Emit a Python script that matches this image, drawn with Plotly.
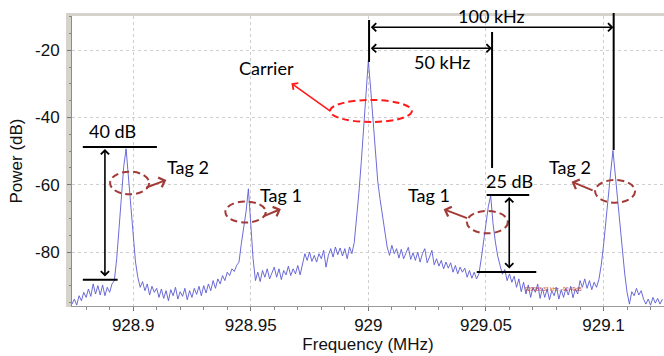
import plotly.graph_objects as go

# ---- data ----
F_START = 928.874   # MHz, first frequency bin
F_STEP = 0.001      # MHz, bin spacing
power_db = [
    -95.5, -94.0, -95.8, -93.0, -94.5, -92.0, -93.5, -91.0, -93.2, -89.5,
    -92.5, -90.0, -92.8, -89.8, -93.0, -90.5, -92.0, -89.5, -88.5, -82.0,
    -73.0, -62.5, -54.5, -49.3, -58.0, -67.5, -77.0, -83.0, -87.6, -90.5,
    -88.8, -91.5, -89.5, -92.8, -90.2, -92.0, -90.8, -93.5, -91.0, -93.8,
    -91.5, -94.5, -91.2, -93.0, -90.5, -94.0, -91.8, -93.2, -90.8, -94.2,
    -91.5, -93.5, -90.8, -92.6, -90.2, -93.0, -90.0, -92.2, -89.5, -91.5,
    -88.5, -90.8, -88.0, -89.5, -87.0, -88.5, -86.0, -87.0, -85.0, -85.8,
    -84.0, -83.0, -77.5, -73.0, -68.0, -61.2, -73.0, -82.0, -88.5, -86.0,
    -88.8, -85.5, -87.5, -85.0, -88.0, -86.0, -84.5, -87.5, -85.0, -88.2,
    -85.5, -86.8, -84.2, -87.0, -85.0, -86.5, -84.0, -86.8, -83.5, -80.5,
    -82.5, -80.0, -82.8, -81.0, -83.0, -80.5, -82.0, -79.5, -84.5, -81.0,
    -79.0, -81.5, -78.5, -80.8, -78.8, -81.2, -79.0, -82.0, -78.5, -80.5,
    -77.2, -70.4, -62.2, -53.1, -43.1, -33.4, -23.0, -31.6, -41.2, -50.3,
    -59.0, -64.4, -69.3, -74.4, -78.5, -81.0, -78.0, -80.5, -79.0, -81.8,
    -79.2, -82.0, -80.0, -78.6, -82.2, -80.2, -82.5, -80.0, -83.0, -80.5,
    -79.0, -83.2, -81.5, -79.5, -83.8, -82.0, -84.2, -82.5, -85.0, -83.0,
    -84.8, -83.2, -86.0, -84.0, -86.5, -84.5, -86.0, -84.8, -87.5, -85.5,
    -87.8, -86.0, -88.0, -86.5, -82.0, -77.0, -71.5, -66.5, -63.2, -71.5,
    -77.0, -81.2, -84.0, -86.6, -85.2, -88.5, -86.5, -89.0, -87.2, -90.5,
    -88.0, -91.8, -89.0, -92.5, -89.8, -93.5, -90.5, -92.0, -89.5, -93.8,
    -90.8, -93.5, -91.0, -94.2, -91.5, -93.0, -90.5, -94.0, -91.2, -93.5,
    -90.8, -92.8, -90.2, -93.6, -91.0, -92.5, -88.5, -90.5, -88.0, -90.8,
    -88.5, -91.2, -89.0, -90.5, -88.2, -84.0, -78.0, -70.0, -63.0, -56.5,
    -49.8, -57.0, -63.5, -72.0, -80.0, -86.5, -92.0, -95.5, -91.8, -93.0,
    -90.8, -92.8, -91.5, -94.0, -95.5, -94.0, -95.8, -93.5, -95.2, -93.8,
    -95.5, -94.0,
]
freq_mhz = [round(F_START + i * F_STEP, 6) for i in range(len(power_db))]

x_ticks = [928.9, 928.95, 929.0, 929.05, 929.1]
x_tick_labels = ["928.9", "928.95", "929", "929.05", "929.1"]
y_ticks = [-20, -40, -60, -80]
y_tick_labels = ["-20", "-40", "-60", "-80"]

X_RANGE = [928.874, 929.1257]
Y_RANGE = [-96.06, -9.80]

fig = go.Figure()
fig.add_trace(go.Scatter(x=freq_mhz, y=power_db, mode="lines",
                         line=dict(color="#5a5ad4", width=0.9),
                         hoverinfo="skip", showlegend=False))

TXT_FONT = dict(family="Lato, Carlito, Liberation Sans, sans-serif", size=18, color="#000000")
BROWN = "#a23b37"
RED = "#ff1a1a"

def yp(db):
    return (db - Y_RANGE[0]) / (Y_RANGE[1] - Y_RANGE[0])

shapes = []
# frame bands (window chrome) left and top
shapes.append(dict(type="rect", xref="paper", yref="paper", x0=-0.0101, x1=-0.0017,
                   y0=-0.0035, y1=1.0103, fillcolor="#d6d3cc", line=dict(width=0), layer="below"))
shapes.append(dict(type="rect", xref="paper", yref="paper", x0=-0.0101, x1=1.0,
                   y0=1.0, y1=1.0103, fillcolor="#d6d3cc", line=dict(width=0), layer="below"))

def hline(x0, x1, y):
    shapes.append(dict(type="line", xref="x", yref="y", x0=x0, x1=x1, y0=y, y1=y,
                       line=dict(color="black", width=2), layer="above"))

def vline(x, y0, y1):
    shapes.append(dict(type="line", xref="x", yref="paper", x0=x, x1=x, y0=yp(y0), y1=yp(y1),
                       line=dict(color="black", width=2), layer="above"))

def ellipse(x0, x1, y0, y1, color):
    shapes.append(dict(type="circle", xref="x", yref="y", x0=x0, x1=x1, y0=y0, y1=y1,
                       line=dict(color=color, width=2, dash="7px,4px"), layer="above"))

# 40 dB marker
hline(928.8786, 928.9101, -48.77)
hline(928.8786, 928.8934, -88.24)
# 25 dB marker
hline(929.0503, 929.0684, -63.04)
hline(929.0461, 929.0714, -85.95)
# spacing markers
vline(929.0003, -10.99, -23.48)
vline(929.0526, -14.56, -55.0)
vline(929.1043, -8.9, -49.66)

ellipse(928.9837, 929.0185, -34.78, -41.33, RED)
ellipse(928.8902, 928.9068, -56.11, -62.84, BROWN)
ellipse(928.9392, 928.9564, -64.98, -71.22, BROWN)
ellipse(929.0419, 929.0593, -67.80, -74.44, BROWN)
ellipse(929.0964, 929.1134, -58.58, -65.33, BROWN)

annotations = []

def text(x, y, s, yref="y"):
    annotations.append(dict(x=x, y=y, xref="x", yref=yref, text=s, showarrow=False,
                            font=TXT_FONT, xanchor="center", yanchor="middle"))

def arrow(hx, hy, tx, ty, color, width, side="end", head=4, size=1.0):
    annotations.append(dict(x=hx, y=hy, ax=tx, ay=ty, xref="x", yref="y", axref="x", ayref="y",
                            text="", showarrow=True, arrowhead=head, startarrowhead=head,
                            arrowside=side, arrowsize=size, startarrowsize=size,
                            arrowwidth=width, arrowcolor=color))

text(928.9568, -25.27, "Carrier")
text(928.8914, -44.0, "40 dB")
text(928.9233, -54.7, "Tag 2")
text(928.9628, -63.0, "Tag 1")
text(929.0313, -23.5, "50 kHz")
text(929.0525, -9.8, "100 kHz")
text(929.0602, -58.9, "25 dB")
text(929.0257, -63.0, "Tag 1")
text(929.0858, -54.7, "Tag 2")

# double arrows
arrow(928.8880, -49.36, 928.8880, -87.73, "black", 1.6, side="end+start")
arrow(929.0599, -63.64, 929.0599, -85.36, "black", 1.6, side="end+start")
arrow(929.1042, -13.16, 929.0004, -13.16, "black", 1.6, side="end+start")
arrow(929.0525, -19.41, 929.0004, -19.41, "black", 1.6, side="end+start")
# pointer arrows
arrow(928.9673, -29.82, 928.9843, -38.35, RED, 1.6)
arrow(928.9141, -58.58, 928.9050, -60.96, BROWN, 2)
arrow(928.9628, -67.21, 928.9547, -69.59, BROWN, 2)
arrow(929.0320, -67.30, 929.0426, -70.09, BROWN, 2)
arrow(929.0864, -59.09, 929.0960, -61.85, BROWN, 2)

# tiny marker readout
annotations.append(dict(x=929.0789, y=-91.0, xref="x", yref="y", text="929088.33 kHz, -90.49dB",
                        showarrow=False, font=dict(family="Liberation Sans", size=5, color="#c0392b")))

fig.update_layout(
    width=664, height=356,
    margin=dict(l=72, r=0, t=16, b=50),
    paper_bgcolor="white", plot_bgcolor="white",
    font=dict(family="Liberation Sans, Arial, sans-serif", size=17, color="#111111"),
    shapes=shapes, annotations=annotations,
    xaxis=dict(range=X_RANGE, tickvals=x_ticks, ticktext=x_tick_labels,
               showgrid=True, gridcolor="#cfcfcf", griddash="dot", gridwidth=1,
               showline=True, linecolor="#9a9a9a", linewidth=1,
               ticks="outside", ticklen=4, tickcolor="#777777",
               minor=dict(dtick=0.01, tick0=928.9, ticks="outside", ticklen=3, tickcolor="#888888", showgrid=False),
               zeroline=False,
               title=dict(text="Frequency (MHz)", standoff=2, font=dict(size=17))),
    yaxis=dict(range=Y_RANGE, tickvals=y_ticks, ticktext=y_tick_labels,
               showgrid=True, gridcolor="#cfcfcf", griddash="dot", gridwidth=1,
               showline=True, linecolor="#8c8c8c", linewidth=1,
               ticks="outside", ticklen=4, tickcolor="#777777",
               minor=dict(dtick=5, tick0=0, ticks="outside", ticklen=2, tickcolor="#888888", showgrid=False),
               zeroline=False, ticklabelstandoff=4,
               title=dict(text="Power (dB)", standoff=8, font=dict(size=17))),
)

fig.write_html("out.html")
